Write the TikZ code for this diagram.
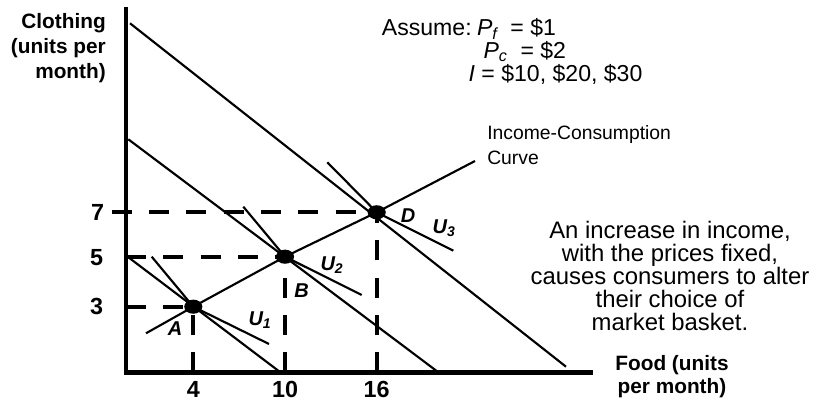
\documentclass[tikz,border=0pt]{standalone}
\usepackage{fontspec}
\setmainfont{Liberation Sans}
\usetikzlibrary{calc, positioning}

\begin{document}
\begin{tikzpicture}[x=0.75pt, y=-0.75pt,
    axis/.style={line width=3.4pt},
    guide/.style={line width=3.2pt, dash pattern=on 15pt off 13pt},
    curve/.style={line width=1.6pt},
    tick/.style={inner sep=0pt, font=\fontsize{17.5}{18}\selectfont\bfseries},
    ptlabel/.style={inner sep=0pt, font=\fontsize{15}{16}\selectfont\bfseries\itshape},
    title/.style={inner sep=0pt, font=\fontsize{15.6}{18.75}\selectfont\bfseries},
    body/.style={inner sep=0pt, font=\fontsize{17.9}{17.3}\selectfont}]
\useasboundingbox (0,0) rectangle (817,402);

\coordinate (O) at (126,372.5);
\coordinate (A) at (193.3,306.7);
\coordinate (B) at (285,256.7);
\coordinate (D) at (376.7,212.3);

% axes
\draw[axis] (126,7) -- (O) -- (593,372.5);

% budget lines for I = 10, 20, 30
\coordinate (L1s) at (128,257);    \coordinate (L1e) at (280,372);
\coordinate (L2s) at (128.3,139.3); \coordinate (L2e) at (438,372);
\coordinate (L3s) at (130,23.3);   \coordinate (L3e) at (566,366.7);
\draw[curve] (L1s) -- (L1e);
\draw[curve] (L2s) -- (L2e);
\draw[curve] (L3s) -- (L3e);

% dashed guides
\draw[guide] ($(O |- D)+(-14.3,0)$) -- (D);
\draw[guide] (O |- B) -- (B);
\draw[guide] (O |- A) -- (A);
\draw[guide] (A |- O) -- (A);
\draw[guide] (B |- O) -- (B);
\draw[guide] (D |- O) -- (D);

% indifference curves
\coordinate (U1s) at (151.7,256.7); \coordinate (U1e) at (269,344);
\coordinate (U2s) at (243.3,206.7); \coordinate (U2e) at (361.7,295);
\coordinate (U3s) at (327.3,162.3); \coordinate (U3e) at (453.3,250.7);
\draw[curve] (U1s) -- (A) -- (U1e);
\draw[curve] (U2s) -- (B) -- (U2e);
\draw[curve] (U3s) -- (D) -- (U3e);

% income-consumption curve
\coordinate (Cs) at (146,333.3);
\coordinate (Ce) at (475,161);
\draw[curve] (Cs) -- (A) -- (B) -- (D) -- (Ce);

\fill (A) ellipse [x radius=6.8pt, y radius=5.3pt];
\fill (B) ellipse [x radius=6.8pt, y radius=5.3pt];
\fill (D) ellipse [x radius=6.8pt, y radius=5.3pt];

% tick labels
\node[tick] (t7) at (97.5,212.3) {7};
\node[tick] (t5) at (96.5,257.5) {5};
\node[tick] (t3) at (96.5,306.7) {3};
\node[tick] (t4) at (193.3,389) {4};
\node[tick] (t10) at (285,389) {10};
\node[tick] (t16) at (376.7,389) {16};

% point and curve labels
\node[ptlabel] (lA) at (175,329) {A};
\node[ptlabel] (lB) at (301.7,290.5) {B};
\node[ptlabel] (lD) at (408,216) {D};
\node[ptlabel] (lU1) at (260,320) {U\textsubscript{1}};
\node[ptlabel] (lU2) at (332,265) {U\textsubscript{2}};
\node[ptlabel] (lU3) at (444,228) {U\textsubscript{3}};

% axis titles
\node[title, align=right, anchor=north east] (ytitle) at (106,13.5) {Clothing\\(units per\\month)};
\node[title, align=center, font=\fontsize{15.6}{17.3}\selectfont\bfseries] (xtitle) at (672,377) {Food (units\\per month)};

% assumptions
\node[body, font=\fontsize{17.3}{17.3}\selectfont, align=left, anchor=base west] (assume) at (381.7,81.5)
    {Assume:\hspace{4pt}\textit{P\textsubscript{f}}\ \ = \$1\\
     \hspace*{76.2pt}\textit{P\textsubscript{c}}\ \ = \$2\\
     \hspace*{65pt}\textit{I} = \$10, \$20, \$30};

\node[inner sep=0pt, align=left, anchor=west, font=\fontsize{14.5}{18.75}\selectfont] (icc) at (487,145.5) {Income-Consumption\\Curve};

\node[body, align=center] (note) at (670,276) {An increase in income,\\with the prices fixed,\\causes consumers to alter\\their choice of\\market basket.};
\end{tikzpicture}
\end{document}
